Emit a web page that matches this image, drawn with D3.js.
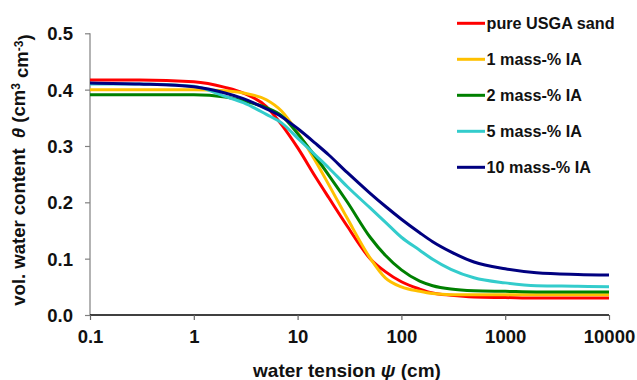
<!DOCTYPE html>
<html>
<head>
<meta charset="utf-8">
<script src="https://cdn.jsdelivr.net/npm/d3@7"></script>
<style>
  body { margin: 0; background: #fff; }
  svg { display: block; font-family: "Liberation Sans", Arial, sans-serif; font-weight: bold; }
</style>
</head>
<body>
<div id="chart"></div>
<script>
const width = 637;
const height = 380;

const tension = [0.1, 0.3, 1, 2, 3, 5, 7, 10, 15, 20, 30, 50, 70, 100, 150, 200, 300, 500, 1000, 2000, 5000, 10000];

const pureSand = [0.417, 0.417, 0.414, 0.404, 0.394, 0.370, 0.338, 0.297, 0.244, 0.208, 0.158, 0.100, 0.077, 0.059, 0.046, 0.039, 0.035, 0.032, 0.031, 0.030, 0.030, 0.030];
const ia1 = [0.400, 0.400, 0.400, 0.398, 0.394, 0.382, 0.362, 0.324, 0.272, 0.231, 0.172, 0.101, 0.066, 0.050, 0.042, 0.038, 0.036, 0.036, 0.036, 0.036, 0.036, 0.036];
const ia2 = [0.391, 0.391, 0.391, 0.387, 0.380, 0.368, 0.354, 0.322, 0.280, 0.248, 0.201, 0.138, 0.106, 0.080, 0.060, 0.052, 0.046, 0.043, 0.042, 0.041, 0.041, 0.041];
const ia5 = [0.410, 0.410, 0.406, 0.388, 0.377, 0.356, 0.341, 0.314, 0.283, 0.261, 0.228, 0.190, 0.165, 0.138, 0.115, 0.099, 0.081, 0.066, 0.057, 0.052, 0.051, 0.050];
const ia10 = [0.412, 0.410, 0.405, 0.394, 0.384, 0.366, 0.352, 0.331, 0.304, 0.284, 0.253, 0.216, 0.193, 0.170, 0.146, 0.130, 0.112, 0.094, 0.082, 0.075, 0.072, 0.071];

const seriesNames = ["pure USGA sand", "1 mass-% IA", "2 mass-% IA", "5 mass-% IA", "10 mass-% IA"];
const seriesValues = [pureSand, ia1, ia2, ia5, ia10];
const seriesColors = ["#ff0000", "#ffc000", "#008000", "#33cccc", "#000080"];

const xTicks = [0.1, 1, 10, 100, 1000, 10000];
const yTicks = [0.0, 0.1, 0.2, 0.3, 0.4, 0.5];

function drawChart() {
    const svg = d3.select("#chart").append("svg")
        .attr("width", width)
        .attr("height", height);

    const xScale = d3.scaleLog().domain([0.1, 10000]).range([90, 609]);
    const yScale = d3.scaleLinear().domain([0, 0.5]).range([315, 33.3]);

    // y axis (grey)
    const yAxis = svg.append("g")
        .attr("class", "y-axis")
        .attr("transform", "translate(90, 0)")
        .call(d3.axisLeft(yScale).tickValues(yTicks).tickFormat(d3.format(".1f")).tickSize(5).tickPadding(12));
    yAxis.select(".domain").attr("stroke", "#808080").attr("stroke-width", 1.2).attr("d", `M0,${yScale(0.5)}V${yScale(0)}`);
    yAxis.selectAll(".tick line").attr("stroke", "#808080").attr("stroke-width", 1.2);
    yAxis.selectAll(".tick text")
        .attr("fill", "#111")
        .style("font-size", "18.5px")
        .attr("dy", "0.36em");

    // x axis (black)
    const xAxis = svg.append("g")
        .attr("class", "x-axis")
        .attr("transform", "translate(0, 315)")
        .call(d3.axisBottom(xScale).tickValues(xTicks).tickFormat(d => String(d)).tickSize(5).tickPadding(8));
    xAxis.select(".domain").attr("stroke", "#000").attr("stroke-width", 1.5).attr("d", `M${xScale(0.1)},0H${xScale(10000)}`);
    xAxis.selectAll(".tick line").attr("stroke", "#666").attr("stroke-width", 1.2);
    xAxis.selectAll(".tick text")
        .attr("fill", "#111")
        .style("font-size", "18.5px")
        .attr("dy", "0.8em");

    // curves
    const line = d3.line()
        .x((d, i) => xScale(tension[i]))
        .y(d => yScale(d))
        .curve(d3.curveMonotoneX);

    svg.append("g").attr("class", "curves")
        .selectAll("path")
        .data(seriesValues)
        .join("path")
        .attr("d", d => line(d))
        .attr("fill", "none")
        .attr("stroke", (d, i) => seriesColors[i])
        .attr("stroke-width", 3)
        .attr("stroke-linejoin", "round");

    // legend
    const legend = svg.append("g").attr("class", "legend")
        .selectAll("g")
        .data(seriesNames)
        .join("g")
        .attr("transform", (d, i) => `translate(457, ${23.3 + i * 36})`);

    legend.append("line")
        .attr("x1", 0).attr("x2", 28)
        .attr("stroke", (d, i) => seriesColors[i])
        .attr("stroke-width", 3);

    legend.append("text")
        .attr("x", 29.5)
        .attr("y", 5.8)
        .attr("fill", "#111")
        .style("font-size", "16.2px")
        .text(d => d);

    // axis titles
    const xTitle = svg.append("text")
        .attr("x", 347)
        .attr("y", 377)
        .attr("text-anchor", "middle")
        .attr("fill", "#111")
        .style("font-size", "19px");
    xTitle.append("tspan").text("water tension ");
    xTitle.append("tspan").style("font-style", "italic").text("ψ");
    xTitle.append("tspan").text(" (cm)");

    const yTitle = svg.append("text")
        .attr("transform", "translate(25, 170) rotate(-90)")
        .attr("text-anchor", "middle")
        .attr("fill", "#111")
        .style("white-space", "pre")
        .style("font-size", "18.5px");
    yTitle.append("tspan").text("vol. water content  ");
    yTitle.append("tspan").style("font-style", "italic").text("θ");
    yTitle.append("tspan").text(" (cm");
    yTitle.append("tspan").attr("dy", "-0.45em").style("font-size", "12px").text("3");
    yTitle.append("tspan").attr("dy", "0.45em").text(" cm");
    yTitle.append("tspan").attr("dy", "-0.45em").style("font-size", "12px").text("-3");
    yTitle.append("tspan").attr("dy", "0.45em").text(")");
}

drawChart();
</script>
</body>
</html>
